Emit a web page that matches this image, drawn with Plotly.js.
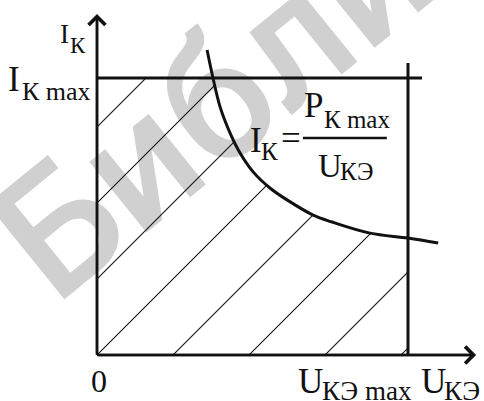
<!DOCTYPE html>
<html>
<head>
<meta charset="utf-8">
<script src="https://cdn.plot.ly/plotly-3.0.1.min.js"></script>
<style>
  html, body { margin: 0; padding: 0; background: #fff; }
  #myDiv { width: 484px; height: 401px; }
</style>
</head>
<body>
<div id="myDiv"></div>
<script>
// safe operating area of a transistor: I_K vs U_KE
var uMax = 10;
var iMax = 10;
// power hyperbola I_K = P_Kmax / U_KE
var uCurve = [3.54, 3.73, 3.96, 4.28, 4.60, 5.02, 5.56, 6.11, 6.95, 7.56, 8.78, 10.0, 10.97];
var iCurve = [11.01, 10.00, 8.95, 8.01, 7.29, 6.61, 6.03, 5.60, 5.05, 4.80, 4.40, 4.22, 4.04];

var ink = '#111';
var serif = 'Liberation Serif, Times New Roman, serif';

// part of the curve that bounds the hatched area
var uEdge = [], iEdge = [];
for (var i = 0; i < uCurve.length; i++) {
  if (iCurve[i] <= iMax && uCurve[i] <= uMax) {
    uEdge.push(uCurve[i]);
    iEdge.push(iCurve[i]);
  }
}

var hatch = {
  shape: '/',
  size: 53.74,
  solidity: 0.02,
  fgcolor: ink,
  fgopacity: 1,
  bgcolor: 'rgba(0,0,0,0)'
};

var trace1 = {
  x: [0, uEdge[0]],
  y: [iMax, iMax],
  mode: 'lines',
  line: {width: 0},
  fill: 'tozeroy',
  fillcolor: 'rgba(0,0,0,0)',
  fillpattern: hatch,
  hoverinfo: 'skip'
};

var trace2 = {
  x: uEdge,
  y: iEdge,
  mode: 'lines',
  line: {width: 0, shape: 'spline'},
  fill: 'tozeroy',
  fillcolor: 'rgba(0,0,0,0)',
  fillpattern: hatch,
  hoverinfo: 'skip'
};

var trace3 = {
  x: uCurve,
  y: iCurve,
  mode: 'lines',
  line: {color: ink, width: 3, shape: 'spline'},
  hoverinfo: 'skip'
};

var data = [trace1, trace2, trace3];

// paper coords from pixel, used only for the watermark
function px(x) { return (x - 72) / 412; }
function py(y) { return (401 - y) / 401; }

// one piece of label text
function lab(t, x, y, size, xanchor, xshift) {
  return {x: x, y: y, text: t, showarrow: false, xanchor: xanchor || 'left', yanchor: 'middle',
          xshift: xshift || 0, font: {family: serif, size: size, color: ink}};
}

var layout = {
  width: 484,
  height: 401,
  margin: {l: 72, r: 0, t: 0, b: 0},
  paper_bgcolor: '#fff',
  plot_bgcolor: '#fff',
  showlegend: false,
  xaxis: {range: [-0.804, 12.444], visible: false, fixedrange: true},
  yaxis: {range: [-1.661, 12.816], visible: false, fixedrange: true},
  shapes: [
    {
      type: 'line', xref: 'paper', yref: 'paper', layer: 'below',
      x0: px(74), y0: py(330), x1: px(385), y1: py(78),
      line: {width: 0.1, color: 'rgba(0,0,0,0)'},
      label: {
        text: 'Библиотека',
        textposition: 'start',
        padding: 0,
        font: {family: 'Roboto, Liberation Sans, sans-serif', size: 172, color: '#d0d0d0', weight: 500}
      }
    },
    {type: 'line', x0: 0, x1: 10.45, y0: iMax, y1: iMax, line: {color: ink, width: 3}},
    {type: 'line', x0: uMax, x1: uMax, y0: 0, y1: 10.54, line: {color: ink, width: 3}},
    {type: 'line', x0: 6.62, x1: 9.32, y0: 7.83, y1: 7.83, line: {color: ink, width: 2.5}}
  ],
  annotations: [
    // axes with arrows
    {x: 12.19, y: 0, ax: 0, ay: 0, axref: 'x', ayref: 'y', text: '', showarrow: true,
     arrowhead: 4, arrowsize: 1.3, arrowwidth: 2.5, arrowcolor: ink, standoff: 0},
    {x: 0, y: 12.31, ax: 0, ay: 0, axref: 'x', ayref: 'y', text: '', showarrow: true,
     arrowhead: 4, arrowsize: 1.3, arrowwidth: 2.5, arrowcolor: ink, standoff: 0},
    // y axis name
    lab('I', 0, 11.59, 27, 'right', -26),
    lab('К', 0, 11.19, 23, 'right', -9),
    // I_K max
    lab('I', 0, 9.96, 35, 'right', -75),
    lab('К max', 0, 9.53, 26, 'right', -4),
    // formula I_K = P_Kmax / U_KE
    lab('I', 4.855, 7.76, 35),
    lab('К', 5.21, 7.36, 25),
    lab('=', 5.85, 7.83, 35),
    lab('P', 6.59, 8.99, 35),
    lab('К max', 7.23, 8.52, 25),
    lab('U', 7.04, 6.82, 33),
    lab('КЭ', 7.75, 6.64, 25),
    // x axis labels
    lab('0', 0.06, -0.94, 32, 'center'),
    lab('U', 6.40, -0.94, 35),
    lab('КЭ max', 7.17, -1.30, 27),
    lab('U', 10.35, -0.94, 35),
    lab('КЭ', 11.09, -1.30, 27)
  ]
};

// axis lines
layout.shapes.push({type: 'line', x0: 0, x1: 12.1, y0: 0, y1: 0, line: {color: ink, width: 2.5}});
layout.shapes.push({type: 'line', x0: 0, x1: 0, y0: 0, y1: 12.2, line: {color: ink, width: 2.5}});

Plotly.newPlot('myDiv', data, layout, {staticPlot: true});
</script>
</body>
</html>
